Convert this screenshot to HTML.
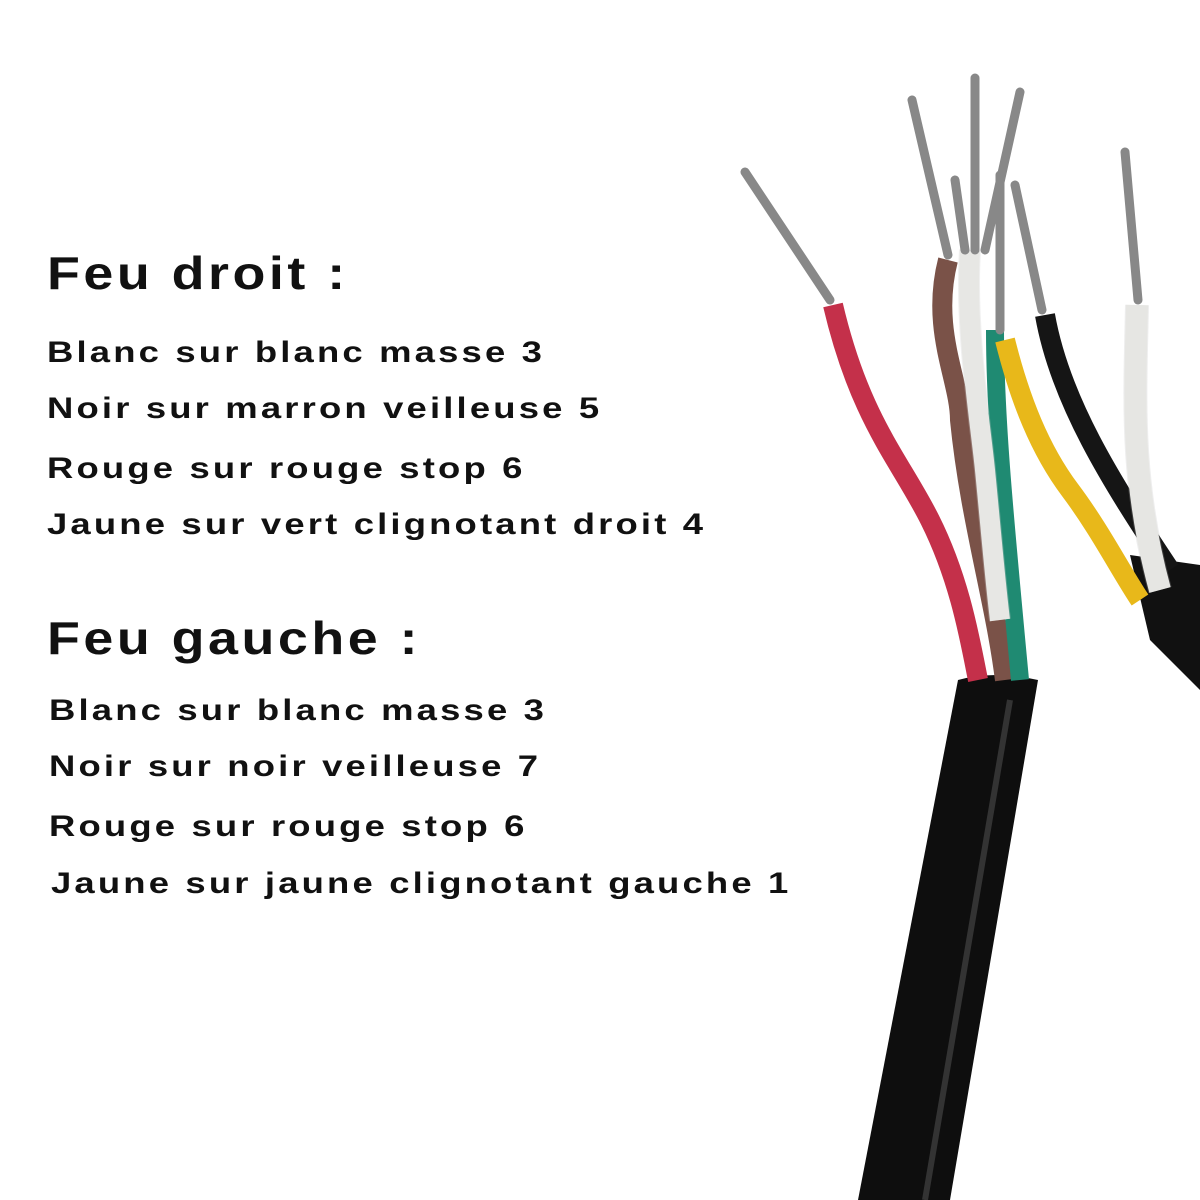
<!DOCTYPE html>
<html><head><meta charset="utf-8"><style>
body{margin:0;width:1200px;height:1200px;background:#fff;position:relative;overflow:hidden;font-family:"Liberation Sans",sans-serif;font-weight:bold;color:#111}
.t{position:absolute;white-space:nowrap;transform-origin:0 0}
.h{font-size:46px;letter-spacing:3px;transform:scaleX(1.17)}
.l{font-size:30px;letter-spacing:2.6px;transform:scaleX(1.215)}
svg{position:absolute;left:0;top:0}
</style></head><body>
<svg width="1200" height="1200">
<path d="M1130 555 L1200 565 L1200 690 L1150 640 Z" fill="#111"/>
<path d="M958 680 Q995 670 1038 680 L950 1200 L858 1200 Z" fill="#0e0e0e"/>
<path d="M1010 700 L925 1200" stroke="#333" stroke-width="6"/>
<path d="M833 305 C860 420 900 460 930 520 C960 580 970 640 978 680" stroke="#c4304a" stroke-width="20" fill="none"/>
<path d="M948 260 C930 330 960 380 960 420 C970 520 995 600 1005 680" stroke="#7a5248" stroke-width="20" fill="none"/>
<path d="M995 330 C995 420 1005 520 1020 680" stroke="#1f8a72" stroke-width="18" fill="none"/>
<path d="M970 250 C965 330 980 420 985 470 C990 520 995 580 1000 620" stroke="#f2f2ee" stroke-width="20" fill="none"/>
<path d="M970 250 C965 330 980 420 985 470 C990 520 995 580 1000 620" stroke="#ccc" stroke-width="22" fill="none" opacity=".3"/>
<path d="M1005 340 C1020 400 1040 450 1070 490 C1100 530 1120 570 1140 600" stroke="#e8b81a" stroke-width="20" fill="none"/>
<path d="M1045 315 C1060 400 1110 480 1170 570" stroke="#151515" stroke-width="20" fill="none"/>
<path d="M1137 305 C1135 400 1130 480 1160 590" stroke="#f4f4f0" stroke-width="22" fill="none"/>
<path d="M1137 305 C1135 400 1130 480 1160 590" stroke="#bbb" stroke-width="24" fill="none" opacity=".25"/>
<g stroke="#888" stroke-width="9" fill="none" stroke-linecap="round">
<path d="M745 172 L830 300"/>
<path d="M912 100 L948 255"/>
<path d="M975 78 L975 250"/>
<path d="M1020 92 L985 250"/>
<path d="M1000 175 L1000 330"/>
<path d="M1015 185 L1042 310"/>
<path d="M1125 152 L1138 300"/>
<path d="M955 180 L965 250"/>
</g>
</svg>
<div class="t h" style="left:47px;top:246px">Feu droit :</div>
<div class="t l" style="left:47px;top:336px">Blanc sur blanc masse 3</div>
<div class="t l" style="left:47px;top:392px">Noir sur marron veilleuse 5</div>
<div class="t l" style="left:47px;top:452px">Rouge sur rouge stop 6</div>
<div class="t l" style="left:47px;top:508px">Jaune sur vert clignotant droit 4</div>
<div class="t h" style="left:47px;top:611px">Feu gauche :</div>
<div class="t l" style="left:49px;top:694px">Blanc sur blanc masse 3</div>
<div class="t l" style="left:49px;top:750px">Noir sur noir veilleuse 7</div>
<div class="t l" style="left:49px;top:810px">Rouge sur rouge stop 6</div>
<div class="t l" style="left:51px;top:867px">Jaune sur jaune clignotant gauche 1</div>
</body></html>
